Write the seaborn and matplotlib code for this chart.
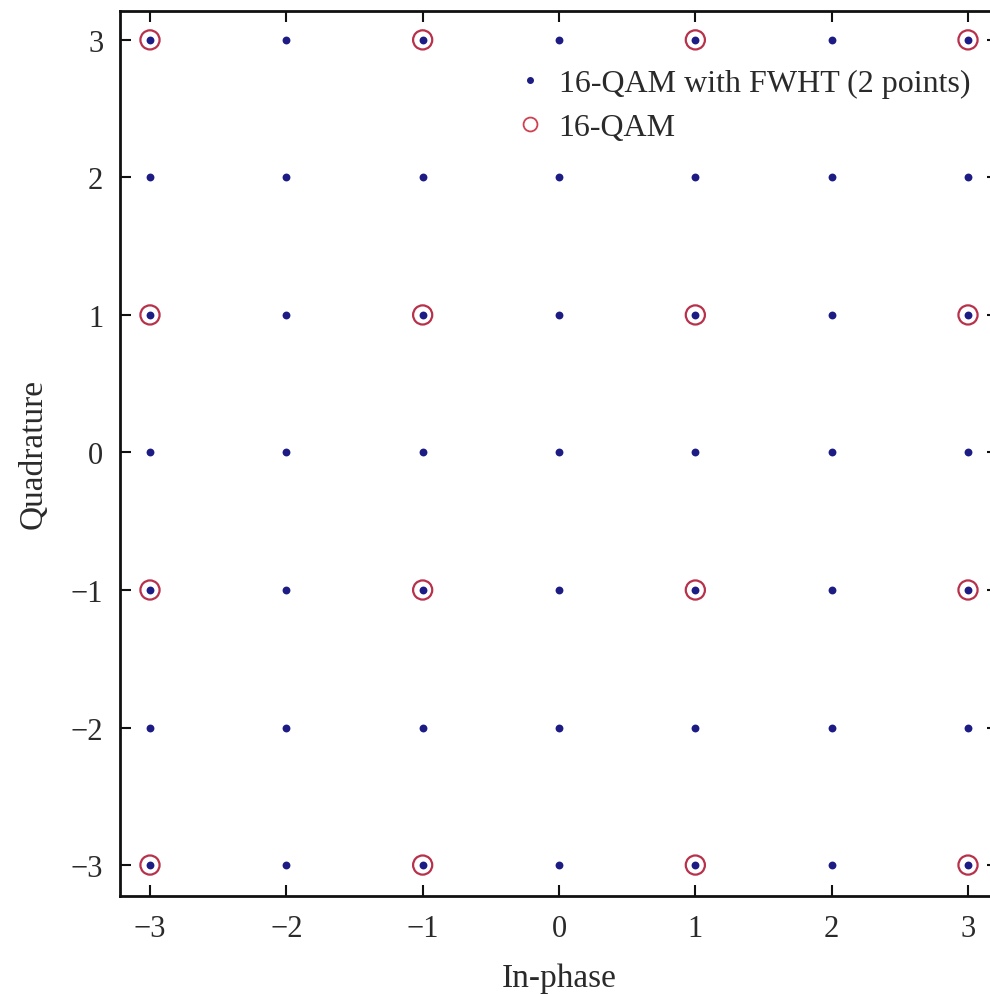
import numpy as np
import pandas as pd
import matplotlib
matplotlib.use("Agg")
import matplotlib.pyplot as plt
from matplotlib.lines import Line2D
import seaborn as sns

# Data
fwht_levels = [-3, -2, -1, 0, 1, 2, 3]
qam_levels = [-3, -1, 1, 3]
tick_vals = [-3, -2, -1, 0, 1, 2, 3]
tick_labels = ["\u22123", "\u22122", "\u22121", "0", "1", "2", "3"]

fwht_i, fwht_q = np.meshgrid(fwht_levels, fwht_levels)
df_fwht = pd.DataFrame({"I": fwht_i.ravel(), "Q": fwht_q.ravel()})
qam_i, qam_q = np.meshgrid(qam_levels, qam_levels)
df_qam = pd.DataFrame({"I": qam_i.ravel(), "Q": qam_q.ravel()})

sns.set_style("ticks")
plt.rcParams["font.family"] = ["Liberation Serif", "DejaVu Serif"]

RED = "#b8304a"
BLUE = "#1c1c84"
TXT = "#2a2a2a"

fig = plt.figure(figsize=(9.9, 9.95), dpi=100)
ax = fig.add_axes([120 / 990, 1 - 897 / 995, (998 - 120) / 990, (897 - 12) / 995])

sns.scatterplot(data=df_qam, x="I", y="Q", ax=ax, marker="o", s=190,
                facecolors="none", edgecolor=RED, linewidth=1.6,
                legend=False, zorder=2)
sns.scatterplot(data=df_fwht, x="I", y="Q", ax=ax, marker="o", s=32,
                color=BLUE, edgecolor=BLUE, linewidth=0,
                legend=False, zorder=3)

ax.set_xlim(-3.22, 3.22)
ax.set_ylim(-3.225, 3.21)
ax.set_xticks(tick_vals)
ax.set_xticklabels(tick_labels)
ax.set_yticks(tick_vals)
ax.set_yticklabels(tick_labels)
ax.tick_params(direction="in", top=True, right=True, length=8, width=1.5,
               labelsize=22, colors="#111111", labelcolor=TXT)
ax.tick_params(axis="y", pad=12)
ax.tick_params(axis="x", pad=13)
for sp in ax.spines.values():
    sp.set_linewidth(2)
    sp.set_color("#111111")

ax.set_xlabel("In-phase", fontsize=24, labelpad=14, color=TXT)
ax.set_ylabel("Quadrature", fontsize=24, labelpad=16, color=TXT)

h1 = Line2D([], [], ls="none", marker="o", ms=4, color=BLUE, mec=BLUE)
h2 = Line2D([], [], ls="none", marker="o", ms=10, mfc="none", mec="#d04050", mew=1.3)
leg = ax.legend([h1, h2], ["16-QAM with FWHT (2 points)", "16-QAM"],
                loc="upper right", bbox_to_anchor=(970 / 990, 1 - 70 / 995),
                bbox_transform=fig.transFigure, frameon=False, fontsize=23,
                handletextpad=0.5, handlelength=0.8, labelspacing=0.45,
                borderaxespad=0, borderpad=0)
for t in leg.get_texts():
    t.set_color(TXT)

fig.savefig("out.png", dpi=100)
